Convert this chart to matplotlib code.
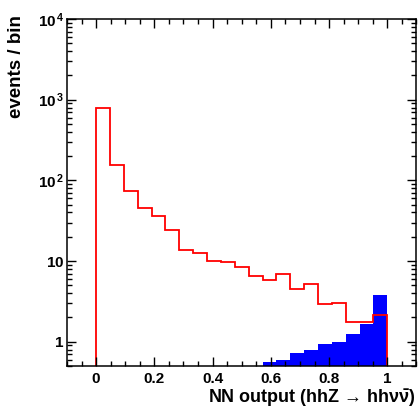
import numpy as np
import matplotlib
matplotlib.use('Agg')
import matplotlib.pyplot as plt
from matplotlib.ticker import MultipleLocator, LogLocator, FuncFormatter, NullFormatter

plt.rcParams['font.family'] = ['Liberation Sans', 'DejaVu Sans']
plt.rcParams['font.weight'] = 'bold'
plt.rcParams['mathtext.fontset'] = 'custom'
plt.rcParams['mathtext.rm'] = 'Liberation Sans'
plt.rcParams['mathtext.bf'] = 'Liberation Sans:bold'
plt.rcParams['mathtext.it'] = 'Liberation Sans:italic'

# NN output histograms, 21 bins over [0, 1]
n_bins = 21
background = [800, 156, 73, 45.5, 35.9, 24.5, 13.9, 12.6, 9.9, 9.8, 8.5,
              6.6, 5.9, 7.0, 4.5, 5.2, 2.9, 3.0, 1.77, 1.78, 2.12]
signal_first_bin = 12
signal = [0.56, 0.59, 0.72, 0.78, 0.93, 0.99, 1.23, 1.67, 3.81]

edges = np.linspace(0, 1, n_bins + 1)

fig = plt.figure(figsize=(4.18, 4.08), dpi=100)
ax = fig.add_axes([0.1603, 0.1029, 0.8359, 0.8505])

ax.stairs(signal, edges[signal_first_bin:], baseline=1e-3, fill=True,
          color='#0000ff', linewidth=0)
ax.stairs(background, edges, baseline=1e-3, color='#ff0000', linewidth=1.3)

ax.set_yscale('log')
ax.set_xlim(-0.1, 1.1)
ax.set_ylim(0.5, 1e4)

ax.xaxis.set_major_locator(MultipleLocator(0.2))
ax.xaxis.set_minor_locator(MultipleLocator(0.05))
ax.xaxis.set_major_formatter(FuncFormatter(lambda v, p: '0' if abs(v) < 1e-9 else ('1' if abs(v - 1) < 1e-9 else '%g' % v)))
ax.yaxis.set_major_locator(LogLocator(base=10))
ax.yaxis.set_minor_locator(LogLocator(base=10, subs=np.arange(2, 10)))
ax.yaxis.set_minor_formatter(NullFormatter())


def ylab(v, p):
    k = int(round(np.log10(v)))
    if k == 0:
        return r'$\mathbf{1}\quad$'
    if k == 1:
        return r'$\mathbf{10}\quad$'
    return r'$\mathbf{10}^{\,\mathbf{%d}}$' % k


ax.yaxis.set_major_formatter(FuncFormatter(ylab))

ax.tick_params(which='both', direction='in', top=True, right=True, width=1.0)
ax.tick_params(which='major', length=6.5, labelsize=11)
ax.tick_params(axis='x', which='major', pad=4)
ax.tick_params(axis='y', which='major', pad=2)
ax.tick_params(which='minor', length=3.5)
for s in ax.spines.values():
    s.set_linewidth(1.1)

ax.set_xlabel('NN output (hhZ \u2192 hh$\\mathrm{\\nu\\bar{\\nu}}$)', fontsize=13,
              fontweight='bold', loc='right')
ax.xaxis.set_label_coords(1.0, -0.06)
ax.set_ylabel('events / bin', fontsize=13.5, fontweight='bold', loc='top')
ax.yaxis.set_label_coords(-0.12, 1.01)

fig.savefig('out.png', dpi=100)
